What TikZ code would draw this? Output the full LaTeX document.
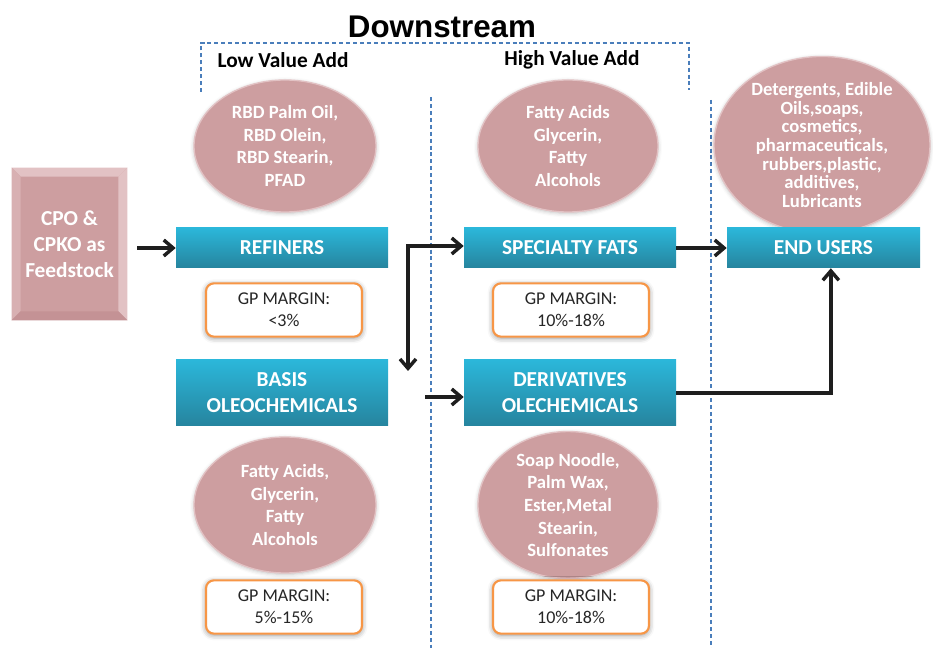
\documentclass[tikz,border=0pt]{standalone}
\usepackage{fontspec}
\setmainfont{Carlito}
\newfontfamily\titlefont{Liberation Sans}
\usetikzlibrary{arrows.meta,calc,shapes.geometric,shadows.blur}
\definecolor{pinkfill}{RGB}{205,158,160}
\definecolor{pinklight}{RGB}{226,194,196}
\definecolor{pinkmid}{RGB}{216,176,178}
\definecolor{pinkdark}{RGB}{196,146,149}
\definecolor{cyantop}{RGB}{43,183,218}
\definecolor{cyanbot}{RGB}{38,132,158}
\definecolor{orangeb}{RGB}{247,150,70}
\definecolor{dashblue}{RGB}{74,126,187}
\definecolor{arrowc}{RGB}{30,30,30}
\definecolor{gptext}{RGB}{38,38,38}
\begin{document}
\begin{tikzpicture}[x=0.75pt,y=-0.75pt,
  bluebox/.style={rectangle, top color=cyantop, bottom color=cyanbot, text=white,
    font=\fontsize{16}{19.5}\selectfont\bfseries, align=center,
    minimum width=159pt, minimum height=30pt, inner sep=0pt},
  tallbox/.style={bluebox, minimum height=49.5pt},
  gpbox/.style={rectangle, rounded corners=6pt, draw=orangeb, line width=1.6pt, fill=white,
    blur shadow={shadow xshift=0pt, shadow yshift=-1pt, shadow blur radius=4pt, shadow opacity=45},
    font=\fontsize{13.5}{16.5}\selectfont, text=gptext, align=center,
    minimum width=117pt, minimum height=40pt, inner sep=0pt},
  ellip/.style={ellipse, fill=pinkfill, draw=pinklight, line width=1pt, text=white,
    blur shadow={shadow xshift=0pt, shadow yshift=-1pt, shadow blur radius=3pt, shadow opacity=25},
    font=\fontsize{14}{17}\selectfont\bfseries, align=center, inner sep=0pt},
  feedbox/.style={rectangle, fill=pinkfill, text=white,
    font=\fontsize{16}{19.5}\selectfont\bfseries, align=center,
    minimum width=86.25pt, minimum height=114pt, inner sep=0pt},
  tipstyle/.style={},
  arr/.style={draw=arrowc, line width=2.6pt, -{Straight Barb[length=7pt,width=12pt]}},
  arrboth/.style={draw=arrowc, line width=2.6pt, {Straight Barb[length=7pt,width=12pt]}-{Straight Barb[length=7pt,width=12pt]}},
  dashline/.style={draw=dashblue, line width=0.8pt, dash pattern=on 3pt off 2.2pt}
]
\useasboundingbox (0,0) rectangle (933,648);

% dashed guides
\draw[dashline] (201,92) -- (201,43) -- (689,43) -- (689,90);
\draw[dashline] (431,97) -- (431,648);
\draw[dashline] (711,100) -- (711,648);

% title and headings
\node[font=\titlefont\bfseries\fontsize{23.5}{27}\selectfont] (title) at (442,27) {Downstream};
\node[font=\fontsize{16}{19}\selectfont\bfseries] (low) at (283,60) {Low Value Add};
\node[font=\fontsize{16}{19}\selectfont\bfseries] (high) at (572,60) {High Value Add};

% ellipses
\node[ellip, minimum width=136.5pt, minimum height=99pt] (ell1) at (285,146)
  {RBD Palm Oil,\\RBD Olein,\\RBD Stearin,\\PFAD};
\node[ellip, minimum width=135pt, minimum height=99pt] (ell2) at (568,146)
  {Fatty Acids\\Glycerin,\\Fatty\\Alcohols};
\node[ellip, minimum width=162pt, minimum height=124.5pt, font=\fontsize{14}{14}\selectfont\bfseries] (ell3) at (822,145)
  {Detergents, Edible\\Oils,soaps,\\cosmetics,\\pharmaceuticals,\\rubbers,plastic,\\additives,\\Lubricants};
\node[ellip, minimum width=136.5pt, minimum height=102pt] (ell4) at (285,505)
  {Fatty Acids,\\Glycerin,\\Fatty\\Alcohols};
\node[ellip, minimum width=135pt, minimum height=102pt] (ell5) at (568,505)
  {Soap Noodle,\\Palm Wax,\\Ester,Metal\\Stearin,\\Sulfonates};

% feedstock box with bevel
\node[feedbox] (feed) at (69.5,244) {CPO \&\\CPKO as\\Feedstock};
\fill[pinklight] (feed.north west) -- (feed.north east) -- ($(feed.north east)+(-9,9)$) -- ($(feed.north west)+(9,9)$) -- cycle;
\fill[pinkmid] (feed.north west) -- ($(feed.north west)+(9,9)$) -- ($(feed.south west)+(9,-9)$) -- (feed.south west) -- cycle;
\fill[pinklight] (feed.north east) -- ($(feed.north east)+(-9,9)$) -- ($(feed.south east)+(-9,-9)$) -- (feed.south east) -- cycle;
\fill[pinkdark] (feed.south west) -- ($(feed.south west)+(9,-9)$) -- ($(feed.south east)+(-9,-9)$) -- (feed.south east) -- cycle;

% blue boxes
\node[bluebox] (refiners) at (282,248) {REFINERS};
\node[bluebox] (specialty) at (570,248) {SPECIALTY FATS};
\node[bluebox, minimum width=144.75pt] (endusers) at (823.5,248) {END USERS};
\node[tallbox] (basis) at (282,393) {BASIS\\OLEOCHEMICALS};
\node[tallbox] (derivs) at (570,393) {DERIVATIVES\\OLECHEMICALS};

% GP margin boxes
\node[gpbox] (gp1) at (284,310) {GP MARGIN:\\<3\%};
\node[gpbox] (gp2) at (571,310) {GP MARGIN:\\10\%-18\%};
\node[gpbox] (gp3) at (284,607) {GP MARGIN:\\5\%-15\%};
\node[gpbox] (gp4) at (571,607) {GP MARGIN:\\10\%-18\%};

% connectors
\coordinate (turn) at (408,246);
\coordinate (dn) at (408,371);
\coordinate (fromb) at (425,397);
\draw[arr, shorten <=7.5pt] (feed.east |- refiners.west) -- (refiners.west);
\draw[arrboth] (dn) -- (turn) -- (specialty.west |- turn);
\draw[arr] (fromb) -- (derivs.west |- fromb);
\draw[arr] (specialty.east) -- (endusers.west);
\draw[arr] (derivs.east) -| ([xshift=5.5pt]endusers.south);
\end{tikzpicture}
\end{document}
